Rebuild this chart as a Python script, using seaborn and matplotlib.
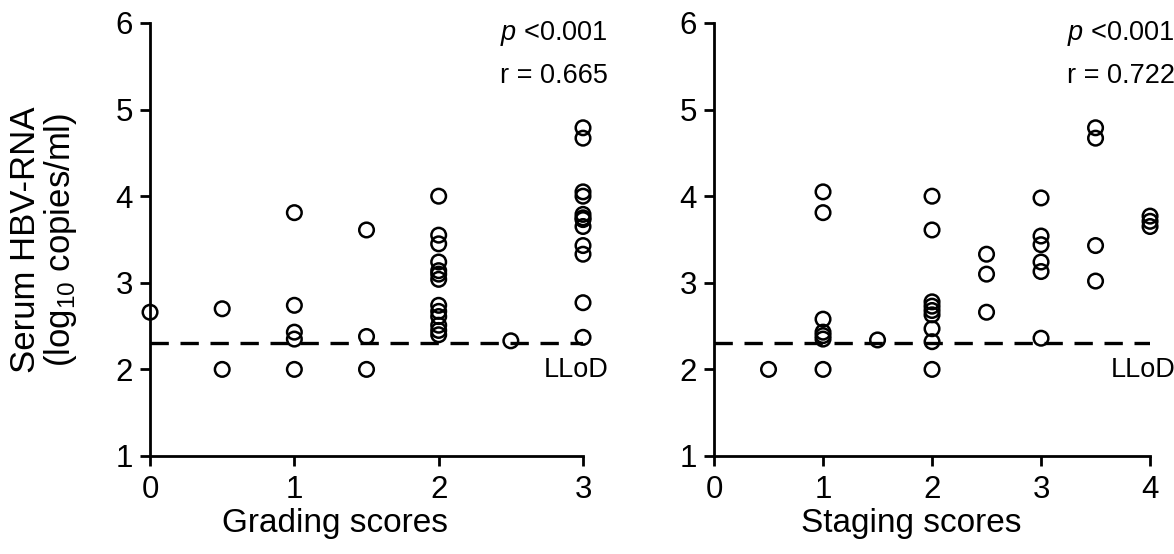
import matplotlib
matplotlib.use("Agg")
import matplotlib.pyplot as plt
import seaborn as sns
import pandas as pd

sns.set_theme(style="ticks")
plt.rcParams['font.family'] = ['Liberation Sans', 'DejaVu Sans']
plt.rcParams['mathtext.fontset'] = 'custom'
plt.rcParams['mathtext.rm'] = 'Liberation Sans'
plt.rcParams['mathtext.it'] = 'Liberation Sans:italic'
plt.rcParams['text.color'] = 'black'
plt.rcParams['axes.labelcolor'] = 'black'
plt.rcParams['xtick.color'] = 'black'
plt.rcParams['ytick.color'] = 'black'
plt.rcParams['axes.edgecolor'] = 'black'

# Grading panel
grade_x = [0, 0.5, 0.5,
           1, 1, 1, 1, 1,
           1.5, 1.5, 1.5,
           2, 2, 2, 2, 2, 2, 2, 2, 2, 2, 2, 2, 2,
           2.5,
           3, 3, 3, 3, 3, 3, 3, 3, 3, 3, 3, 3]
grade_y = [2.66, 2.70, 2.00,
           3.81, 2.74, 2.43, 2.35, 2.00,
           3.61, 2.38, 2.00,
           4.00, 3.55, 3.45, 3.24, 3.14, 3.10, 3.04, 2.74, 2.67, 2.61, 2.51, 2.45, 2.40,
           2.33,
           4.79, 4.67, 4.05, 4.00, 3.79, 3.75, 3.73, 3.65, 3.43, 3.33, 2.77, 2.37]

# Staging panel
stage_x = [0.5,
           1, 1, 1, 1, 1, 1, 1,
           1.5,
           2, 2, 2, 2, 2, 2, 2, 2, 2,
           2.5, 2.5, 2.5,
           3, 3, 3, 3, 3, 3,
           3.5, 3.5, 3.5, 3.5,
           4, 4, 4]
stage_y = [2.00,
           4.05, 3.81, 2.58, 2.43, 2.39, 2.35, 2.00,
           2.34,
           4.00, 3.61, 2.78, 2.73, 2.68, 2.63, 2.47, 2.32, 2.00,
           3.33, 3.10, 2.66,
           3.98, 3.54, 3.44, 3.24, 3.13, 2.36,
           4.79, 4.67, 3.43, 3.02,
           3.77, 3.71, 3.65]

lld = 2.3
panels = [
    dict(x=grade_x, y=grade_y, xmax=3, xticks=[0, 1, 2, 3], xlabel="Grading scores",
         r="r = 0.665", lx=0.427),
    dict(x=stage_x, y=stage_y, xmax=4, xticks=[0, 1, 2, 3, 4], xlabel="Staging scores",
         r="r = 0.722", lx=0.452),
]

fig = plt.figure(figsize=(11.74, 5.54), dpi=100)
axes = [fig.add_axes([0.1278, 0.1769, 0.3688, 0.7816]),
        fig.add_axes([0.6082, 0.1769, 0.3714, 0.7816])]

for ax, p in zip(axes, panels):
    df = pd.DataFrame({"x": p["x"], "y": p["y"]})
    sns.scatterplot(data=df, x="x", y="y", ax=ax, s=110, facecolor="none",
                    edgecolor="black", linewidth=1.8, clip_on=False, zorder=3)
    ax.plot([0, p["xmax"]], [lld, lld], color="black", lw=2.4,
            dashes=(5.5, 3.5), zorder=2)
    ax.set_xlim(0, p["xmax"])
    ax.set_ylim(1, 6)
    ax.set_xticks(p["xticks"])
    ax.set_yticks([1, 2, 3, 4, 5, 6])
    for s in ["top", "right"]:
        ax.spines[s].set_visible(False)
    for s in ["left", "bottom"]:
        ax.spines[s].set_linewidth(2)
    ax.tick_params(axis="both", length=7.5, width=2, labelsize=22.5, color="black")
    ax.tick_params(axis="x", pad=6)
    ax.tick_params(axis="y", pad=5)
    ax.set_xlabel(p["xlabel"], fontsize=24)
    ax.xaxis.set_label_coords(p["lx"], -0.12)
    ax.set_ylabel("")
    xr = p["xmax"] / ax.get_position().width / fig.get_figwidth() / 100 * 25
    ax.text(p["xmax"] + xr, 5.88, r"$\it{p}$ <0.001", ha="right", va="center", fontsize=19.5)
    ax.text(p["xmax"] + xr, 5.39, p["r"], ha="right", va="center", fontsize=19.5)
    ax.text(p["xmax"] + xr, 1.99, "LLoD", ha="right", va="center", fontsize=19.5)

axes[0].set_ylabel("Serum HBV-RNA\n(log$_{10}$ copies/ml)", fontsize=25, linespacing=1.0)
axes[0].yaxis.set_label_coords(-0.165, 0.5)

fig.savefig("out.png", dpi=100)
